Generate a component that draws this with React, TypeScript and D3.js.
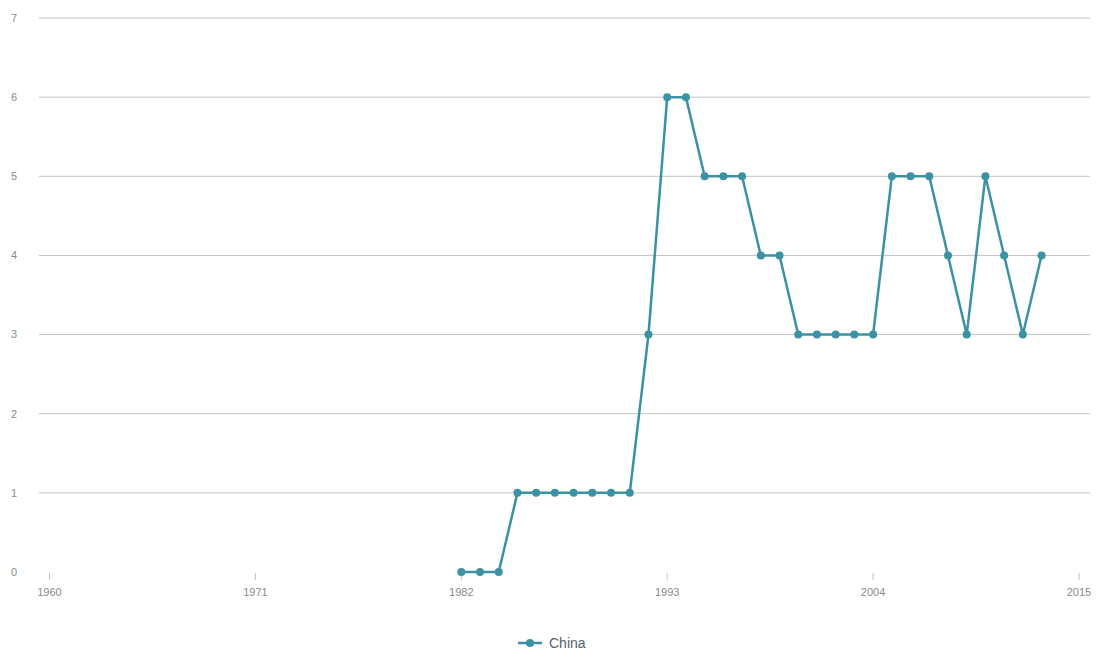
import React from "react";
import * as d3 from "d3";

const years = [1982,1983,1984,1985,1986,1987,1988,1989,1990,1991,1992,1993,1994,1995,1996,1997,1998,1999,2000,2001,2002,2003,2004,2005,2006,2007,2008,2009,2010,2011,2012,2013];
const values = [0,0,0,1,1,1,1,1,1,1,3,6,6,5,5,5,4,4,3,3,3,3,3,5,5,5,4,3,5,4,3,4];
const xTicks = [1960,1971,1982,1993,2004,2015];
const yTicks = [0,1,2,3,4,5,6,7];
const seriesName = "China";

const W = 1101, H = 652;
const COLOR = "#3b92a3";

export default function App() {
  const x = d3.scaleLinear().domain([1960, 2015]).range([49.5, 1079]);
  const y = d3.scaleLinear().domain([0, 7]).range([572, 18]);
  const pts = years.map((yr, i) => [yr, values[i]] as [number, number]);
  const line = d3.line<[number, number]>().x(d => x(d[0])).y(d => y(d[1]));
  return (
    <svg width={W} height={H} style={{ position: "absolute", left: 0, top: 0, fontFamily: "'Liberation Sans', Arial, sans-serif" }}>
      <rect width={W} height={H} fill="#fff" />
      {yTicks.filter(t => t > 0).map(t => (
        <line key={t} x1={39} x2={1090} y1={y(t)} y2={y(t)} stroke="#c2c2c2" strokeWidth={1} />
      ))}
      {yTicks.map(t => (
        <text key={t} x={14} y={y(t)} dy="0.35em" textAnchor="middle" fontSize={11} fill="#8a8a8a">{t}</text>
      ))}
      {xTicks.map(t => (
        <g key={t}>
          <line x1={x(t)} x2={x(t)} y1={573} y2={580} stroke="#c2c2c2" />
          <text x={x(t)} y={596} textAnchor="middle" fontSize={11} fill="#8a8a8a">{t}</text>
        </g>
      ))}
      <path d={line(pts) || ""} fill="none" stroke={COLOR} strokeWidth={2.5} strokeLinejoin="round" />
      {pts.map((p, i) => (
        <circle key={i} cx={x(p[0])} cy={y(p[1])} r={4} fill={COLOR} />
      ))}
      <g>
        <line x1={518} x2={542} y1={643} y2={643} stroke={COLOR} strokeWidth={2.5} />
        <circle cx={530} cy={643} r={4} fill={COLOR} />
        <text x={549} y={643} dy="0.35em" fontSize={14} fill="#56606b">{seriesName}</text>
      </g>
    </svg>
  );
}
